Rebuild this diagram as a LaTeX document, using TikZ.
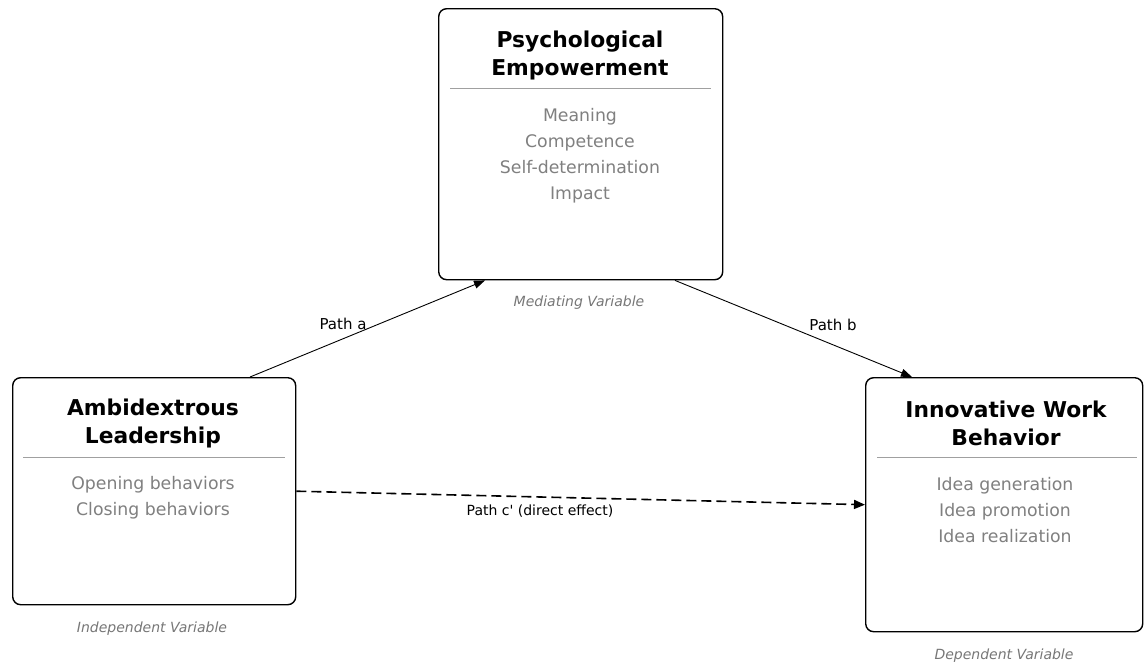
\documentclass[tikz,border=0pt]{standalone}
\usepackage{fontspec}
\setmainfont{DejaVu Sans}
\usetikzlibrary{arrows.meta,calc}
\definecolor{itemgray}{HTML}{808080}
\definecolor{labelgray}{HTML}{777777}
\definecolor{sepgray}{HTML}{A0A0A0}
\tikzset{
  varbox/.style={draw=black, line width=1.4pt, rounded corners=8pt, inner sep=0pt, anchor=north west, fill=white},
  vartitle/.style={align=center, inner sep=0pt, font=\fontsize{21.8}{28}\selectfont\bfseries},
  varitems/.style={align=center, inner sep=0pt, text=itemgray, font=\fontsize{17.3}{26}\selectfont},
  varlabel/.style={inner sep=0pt, text=labelgray, font=\fontsize{14}{16}\selectfont\itshape},
  pathlabel/.style={inner sep=0pt, font=\fontsize{15}{17}\selectfont},
  sepline/.style={draw=sepgray, line width=0.8pt},
  arr/.style={draw=black, line width=0.9pt, -{Triangle[length=11pt,width=8pt]}},
  dasharr/.style={draw=black, line width=1.6pt, dash pattern=on 10pt off 5pt, -{Triangle[length=11pt,width=9pt]}}
}
\begin{document}
\begin{tikzpicture}[x=1pt,y=-1pt]
\useasboundingbox[fill=white] (0,0) rectangle (1144,662);

% boxes
\node[varbox, minimum width=284pt, minimum height=271pt] (pe) at (438,8) {};
\node[varbox, minimum width=283pt, minimum height=227pt] (al) at (12,377) {};
\node[varbox, minimum width=277pt, minimum height=254pt] (iwb) at (865,377) {};

% separators
\draw[sepline] ($(pe.north west)+(12,80)$) -- ($(pe.north east)+(-12,80)$);
\draw[sepline] ($(al.north west)+(11,80)$) -- ($(al.north east)+(-11,80)$);
\draw[sepline] ($(iwb.north west)+(12,80)$) -- ($(iwb.north east)+(-6,80)$);

% titles
\node[vartitle] (pet) at (580,55) {Psychological\\Empowerment};
\node[vartitle] (alt) at (153,423) {Ambidextrous\\Leadership};
\node[vartitle] (iwbt) at (1006,423) {Innovative Work\\Behavior};

% items
\node[varitems] (pei) at (580,156) {Meaning\\Competence\\Self-determination\\Impact};
\node[varitems] (ali) at (153,498) {Opening behaviors\\Closing behaviors};
\node[varitems] (iwbi) at (1005,510) {Idea generation\\Idea promotion\\Idea realization};

% variable labels
\node[varlabel] (pel) at (579,303) {Mediating Variable};
\node[varlabel] (all) at (152,629) {Independent Variable};
\node[varlabel] (iwbl) at (1004,656) {Dependent Variable};

% connector ends
\coordinate (a1) at ([xshift=238pt]al.north west);
\coordinate (a2) at ([xshift=47pt]pe.south west);
\coordinate (b1) at ([xshift=237pt]pe.south west);
\coordinate (b2) at ([xshift=47pt]iwb.north west);

% connectors
\draw[arr] (a1) -- (a2);
\draw[arr] (b1) -- (b2);
\draw[dasharr] (al.east) -- (iwb.west);

% path labels
\node[pathlabel] (pa) at (343,324) {Path a};
\node[pathlabel] (pb) at (833,325) {Path b};
\node[pathlabel, font=\fontsize{14}{17}\selectfont] (pc) at (540,511) {Path c\textquotesingle{} (direct effect)};
\end{tikzpicture}
\end{document}
